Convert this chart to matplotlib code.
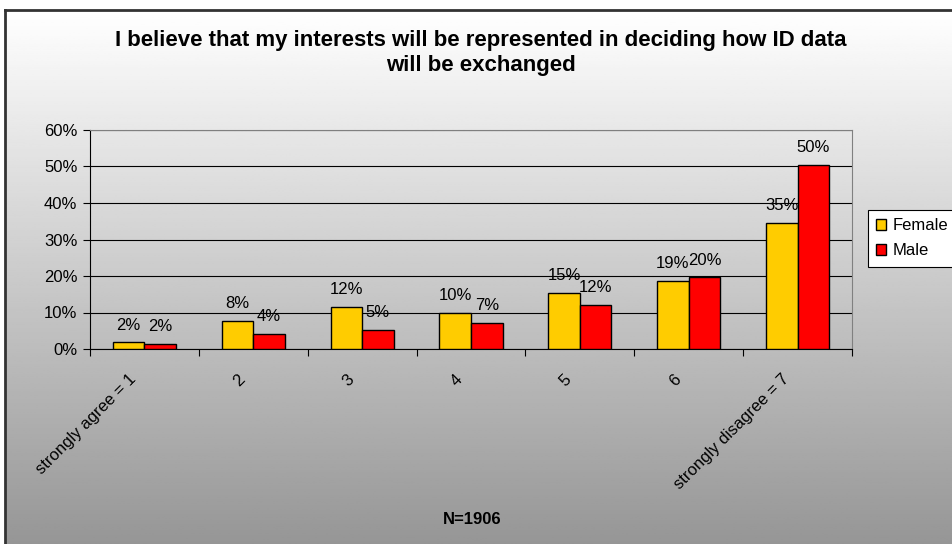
import matplotlib
matplotlib.use("Agg")
import matplotlib.pyplot as plt
import matplotlib.transforms as mtransforms
import numpy as np

plt.rcParams['font.family'] = ['Liberation Sans', 'DejaVu Sans']

categories = ["strongly agree = 1", "2", "3", "4", "5", "6", "strongly disagree = 7"]
female = [1.8, 7.8, 11.6, 10.0, 15.3, 18.6, 34.6]
male = [1.5, 4.1, 5.2, 7.1, 12.0, 19.6, 50.4]
series_names = ["Female", "Male"]
title = "I believe that my interests will be represented in deciding how ID data\nwill be exchanged"
footer = "N=1906"

fig = plt.figure(figsize=(9.52, 5.44), dpi=100)
fig.patch.set_facecolor("white")

# gradient background with frame (cut off at right / bottom like the source)
bg = fig.add_axes([5 / 952, 0, 1 - 5 / 952, 1 - 10 / 544], zorder=0)
grad = np.linspace(255, 150, 256).reshape(-1, 1) / 255.0
bg.imshow(np.repeat(grad, 2, axis=1), cmap="gray", vmin=0, vmax=1,
          aspect="auto", extent=[0, 1, 0, 1])
bg.set_xticks([])
bg.set_yticks([])
for side in ["right", "bottom"]:
    bg.spines[side].set_visible(False)
for side in ["left", "top"]:
    bg.spines[side].set_color("#333333")
    bg.spines[side].set_linewidth(2)

ax = fig.add_axes([90 / 952, 1 - 349 / 544, 762 / 952, 219 / 544], zorder=1)
ax.patch.set_alpha(0)

x = np.arange(len(categories))
w = 0.29
b1 = ax.bar(x - w / 2, female, w, color="#FFCC00", edgecolor="black", linewidth=1,
            label=series_names[0], zorder=3)
b2 = ax.bar(x + w / 2, male, w, color="#FF0000", edgecolor="black", linewidth=1,
            label=series_names[1], zorder=3)

for bars, vals in [(b1, female), (b2, male)]:
    for rect, v in zip(bars, vals):
        ax.annotate(f"{round(v)}%", (rect.get_x() + rect.get_width() / 2, v),
                    xytext=(0, 7), textcoords="offset points",
                    ha="center", va="bottom", fontsize=12, color="black", zorder=4)

ax.set_xlim(-0.5, len(categories) - 0.5)
ax.set_ylim(0, 60)
ax.set_yticks(np.arange(0, 61, 10))
ax.set_yticklabels([f"{t}%" for t in range(0, 61, 10)], fontsize=12)
ax.yaxis.grid(True, color="black", linewidth=0.8, zorder=1)
ax.set_axisbelow(True)

ax.set_xticks(np.arange(-0.5, len(categories), 1))
ax.set_xticklabels([])
ax.set_xticks(x, minor=True)
ax.set_xticklabels(categories, minor=True, rotation=45, ha="right", va="top",
                   rotation_mode="anchor", fontsize=12)
ax.tick_params(axis="x", which="minor", length=0, pad=12)
ax.tick_params(axis="x", which="major", length=5, direction="out", color="black")
ax.tick_params(axis="y", length=5, direction="out", color="black", pad=4)

shift = mtransforms.ScaledTranslation(-16 / 100, -6 / 100, fig.dpi_scale_trans)
for lbl in ax.get_xticklabels(minor=True):
    lbl.set_transform(lbl.get_transform() + shift)

ax.spines["left"].set_color("black")
ax.spines["bottom"].set_color("black")
ax.spines["top"].set_color("#808080")
ax.spines["right"].set_color("#808080")

fig.text(481 / 952, 1 - 53 / 544, title, ha="center", va="center",
         fontsize=16, fontweight="bold", linespacing=1.25)
fig.text(472 / 952, 1 - 519 / 544, footer, ha="center", va="center",
         fontsize=12, fontweight="bold")

leg = ax.legend(loc="upper left", bbox_to_anchor=(868 / 952, 1 - 210 / 544),
                bbox_transform=fig.transFigure, fontsize=12, frameon=True,
                fancybox=False, edgecolor="black", framealpha=1,
                handlelength=0.6, handleheight=0.6, handletextpad=0.4,
                borderpad=0.5, labelspacing=0.6, borderaxespad=0)
leg.get_frame().set_linewidth(0.8)

fig.savefig("out.png", dpi=100)
